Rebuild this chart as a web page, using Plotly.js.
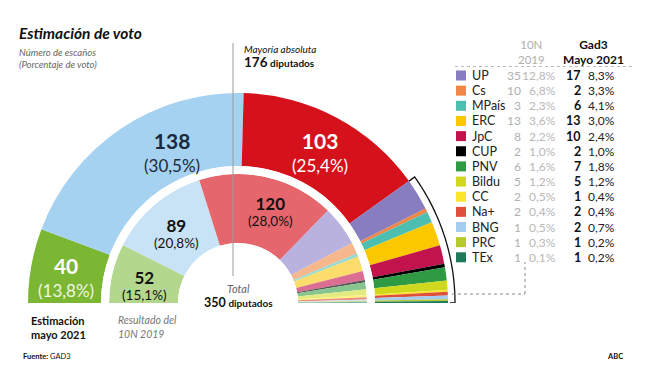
<!DOCTYPE html>
<html><head><meta charset="utf-8">
<script src="https://cdn.plot.ly/plotly-3.0.1.min.js"></script>
<style>html,body{margin:0;padding:0;background:#fff}#chart{width:659px;height:376px}</style>
</head><body><div id="chart"></div>
<script>
// ---------- DATA ----------
const bigParties   = ['Vox', 'PP', 'PSOE'];
const bigSeats2021 = [40, 138, 103];
const bigPct2021   = ['13,8%', '30,5%', '25,4%'];
const bigSeats2019 = [52, 89, 120];
const bigPct2019   = ['15,1%', '20,8%', '28,0%'];

const parties        = ['UP', 'Cs', 'MPaís', 'ERC', 'JpC', 'CUP', 'PNV', 'Bildu', 'CC', 'Na+', 'BNG', 'PRC', 'TEx'];
const seats2019      = [35, 10, 3, 13, 8, 2, 6, 5, 2, 2, 1, 1, 1];
const pct2019        = ['12,8%', '6,8%', '2,3%', '3,6%', '2,2%', '1,0%', '1,6%', '1,2%', '0,5%', '0,4%', '0,5%', '0,3%', '0,1%'];
const seats2021      = [17, 2, 6, 13, 10, 2, 7, 5, 1, 2, 2, 1, 1];
const pct2021        = ['8,3%', '3,3%', '4,1%', '3,0%', '2,4%', '1,0%', '1,8%', '1,2%', '0,4%', '0,4%', '0,7%', '0,2%', '0,2%'];

const bigColorsOuter = ['#7cb733', '#a5d2f1', '#d5121b'];
const bigColorsInner = ['#b3d78c', '#c8e3f6', '#e5666d'];
const partyColors    = ['#877dbf', '#f08744', '#4dbfb1', '#fbc800', '#c3134c', '#000000', '#2e9a43', '#cfd81c', '#fbe62a', '#df4f39', '#a6cdef', '#b8c92b', '#1f7a5c'];
const partyColorsIn  = ['#b9b1de', '#f7b78c', '#9bd9cf', '#fcdc6a', '#dd6e93', '#555555', '#86c58d', '#e3ea80', '#fdf27c', '#ec8d7f', '#c9e1f6', '#d5e08c', '#7fb49f'];

const headers10N  = ['10N', '2019'];
const headersGad3 = ['Gad3', 'Mayo 2021'];

// ---------- GEOMETRY ----------
const W = 659, H = 376;
const px = x => x / W, py = y => 1 - y / H;
const CX = 238, CY = 303;
const R_POLAR = 220, R_OUT = 210, R_OUT_IN = 137;
const R_IN = 129, R_IN_IN = 60;
const FONT = 'Lato, "Open Sans", sans-serif';

const total = bigSeats2021.concat(seats2021).reduce((a, b) => a + b, 0);
const degPerSeat = 180 / total;

function segs(seats) {
  let cum = 0; const th = [], w = [];
  seats.forEach(s => { th.push((cum + s / 2) * degPerSeat); w.push(s * degPerSeat); cum += s; });
  return {th, w};
}
const outerSeats = bigSeats2021.concat(seats2021);
const innerSeats = bigSeats2019.concat(seats2019);
const o = segs(outerSeats), inn = segs(innerSeats);

const angular = {visible: false, direction: 'clockwise', rotation: 180, thetaunit: 'degrees'};

const outerTrace = {
  type: 'barpolar', subplot: 'polar',
  theta: o.th, width: o.w,
  r: outerSeats.map(() => R_OUT - R_OUT_IN),
  marker: {color: bigColorsOuter.concat(partyColors), line: {width: 0}},
  hoverinfo: 'skip', showlegend: false
};
const innerTrace = {
  type: 'barpolar', subplot: 'polar2',
  theta: inn.th, width: inn.w,
  r: innerSeats.map(() => 1),
  marker: {color: bigColorsInner.concat(partyColorsIn), line: {width: 0}},
  hoverinfo: 'skip', showlegend: false
};

// bracket around the small parties (outer ring)
const bigSum = bigSeats2021.reduce((a, b) => a + b, 0);
const brR = 80, brEdge = R_OUT - R_OUT_IN;
const brTheta = [bigSum * degPerSeat], brRad = [brEdge];
for (let s = bigSum; s <= total; s += 1) { brTheta.push(s * degPerSeat); brRad.push(brR); }
brTheta.push(total * degPerSeat); brRad.push(brEdge + 2);
const bracket = {
  type: 'scatterpolar', subplot: 'polar', mode: 'lines',
  theta: brTheta, r: brRad, cliponaxis: false,
  line: {color: '#111', width: 1.3}, hoverinfo: 'skip', showlegend: false
};

// ---------- ANNOTATIONS ----------
const ann = [];
function T(x, y, text, opt) {
  opt = opt || {};
  ann.push({
    xref: 'paper', yref: 'paper', x: px(x), y: py(y), text: text, showarrow: false,
    xanchor: opt.xa || 'left', yanchor: 'middle', align: opt.align || (opt.xa === 'center' ? 'center' : (opt.xa === 'right' ? 'right' : 'left')),
    borderpad: 0,
    font: {family: FONT, size: opt.size || 12, color: opt.color || '#222', weight: opt.weight || 400, style: opt.style || 'normal'}
  });
}
const sp = (size, t) => '<span style="font-size:' + size + 'px">' + t + '</span>';

T(18, 33, 'Estimación de voto', {size: 15.5, weight: 700, style: 'italic', color: '#111'});
T(18, 58, 'Número de escaños<br>(Porcentaje de voto)', {size: 9.5, style: 'italic', color: '#666'});
T(243, 56, sp(10, '<i>Mayoría absoluta</i>') + '<br><b>' + sp(13.5, '176') + ' ' + sp(10, 'diputados') + '</b>', {size: 10.7, color: '#111'});

// ring labels
const outerLabelPos = [[66, 277], [172, 152], [320, 152]];
const outerLabelCol = ['#ffffff', '#1a2a3a', '#ffffff'];
const outerPctCol   = ['#eef6e4', '#1a2a3a', '#ffffff'];
bigSeats2021.forEach((s, i) => {
  const p = outerLabelPos[i];
  T(p[0], p[1], '<b>' + sp(21, s) + '</b><br>' + '<span style="font-size:17px;fill:' + outerPctCol[i] + '">(' + bigPct2021[i] + ')</span>',
    {xa: 'center', size: 17.5, color: outerLabelCol[i]});
});
const innerLabelPos = [[144, 285], [176, 233], [270, 211]];
bigSeats2019.forEach((s, i) => {
  const p = innerLabelPos[i];
  T(p[0], p[1], '<b>' + sp(17, s) + '</b><br>' + sp(13.5, '(' + bigPct2019[i] + ')'), {xa: 'center', size: 12.3, color: '#111'});
});

T(238, 296, '<i>' + sp(11, '<span style="fill:#666">Total</span>') + '</i><br><b>' + sp(12.5, total) + ' ' + sp(10, 'diputados') + '</b>', {xa: 'center', size: 10.8, color: '#111'});
T(30, 327, 'Estimación<br>mayo 2021', {size: 11, weight: 700, color: '#111'});
T(117, 327, 'Resultado del<br>10N 2019', {size: 10.5, style: 'italic', color: '#777'});
T(22, 356, '<b>Fuente:</b> GAD3', {size: 7.5, color: '#111'});
T(624, 356, '<b>ABC</b>', {xa: 'right', size: 7.5, color: '#111'});

// table headers
T(531, 52, sp(11.5, headers10N[0]) + '<br>' + sp(11.5, headers10N[1]), {xa: 'center', size: 11.6, color: '#b0b0b0'});
T(593, 52, '<b>' + sp(12, headersGad3[0]) + '<br>' + sp(12, headersGad3[1]) + '</b>', {xa: 'center', size: 11.6, color: '#111'});

const shapes = [];
const ROW0 = 75.5, DY = 15.15;
parties.forEach((p, i) => {
  const y = ROW0 + i * DY;
  shapes.push({type: 'rect', xref: 'paper', yref: 'paper', x0: px(456), x1: px(466), y0: py(y + 5), y1: py(y - 5),
    fillcolor: partyColors[i], line: {width: 0}});
  T(471, y, p, {size: 12.5, color: '#222'});
  T(522, y, String(seats2019[i]), {xa: 'right', size: 12, color: '#b0b0b0'});
  T(557, y, pct2019[i], {xa: 'right', size: 12, color: '#b8b8b8'});
  T(582, y, '<b>' + seats2021[i] + '</b>', {xa: 'right', size: 12.5, color: '#111'});
  T(616, y, pct2021[i], {xa: 'right', size: 12, color: '#222'});
});

// lines
shapes.push({type: 'line', xref: 'paper', yref: 'paper', x0: px(233), x1: px(233), y0: py(43), y1: py(276),
  line: {color: '#9a9a9a', width: 1}, layer: 'above'});
shapes.push({type: 'line', xref: 'paper', yref: 'paper', x0: px(455), x1: px(632), y0: py(66.5), y1: py(66.5),
  line: {color: '#bbbbbb', width: 1, dash: 'dot'}});
shapes.push({type: 'line', xref: 'paper', yref: 'paper', x0: px(452), x1: px(525), y0: py(294), y1: py(294),
  line: {color: '#888', width: 1, dash: 'dot'}});
shapes.push({type: 'line', xref: 'paper', yref: 'paper', x0: px(525), x1: px(525), y0: py(294), y1: py(262),
  line: {color: '#888', width: 1, dash: 'dot'}});

const layout = {
  width: W, height: H, margin: {l: 0, r: 0, t: 0, b: 0},
  paper_bgcolor: '#fff', plot_bgcolor: '#fff', showlegend: false,
  font: {family: FONT},
  polar: {
    domain: {x: [px(CX - R_POLAR), px(CX + R_POLAR)], y: [py(CY), py(CY - R_POLAR)]},
    sector: [0, 180], hole: R_OUT_IN / R_POLAR, bgcolor: 'rgba(0,0,0,0)',
    radialaxis: {visible: false, range: [0, R_POLAR - R_OUT_IN]},
    angularaxis: angular
  },
  polar2: {
    domain: {x: [px(CX - R_IN), px(CX + R_IN)], y: [py(CY), py(CY - R_IN)]},
    sector: [0, 180], hole: R_IN_IN / R_IN, bgcolor: 'rgba(0,0,0,0)',
    radialaxis: {visible: false, range: [0, 1]},
    angularaxis: angular
  },
  annotations: ann, shapes: shapes
};

Plotly.newPlot('chart', [outerTrace, innerTrace, bracket], layout, {displayModeBar: false, staticPlot: true});
</script></body></html>
